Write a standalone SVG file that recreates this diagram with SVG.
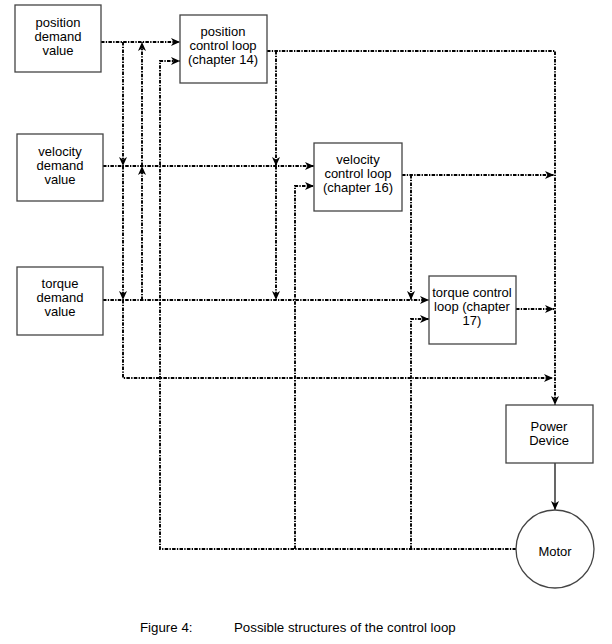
<svg xmlns="http://www.w3.org/2000/svg" width="612" height="644" viewBox="0 0 612 644">
<style>
.box{fill:#fff;stroke:#444;stroke-width:1.3}
.t{font-family:"Liberation Sans",Arial,sans-serif;font-size:13px;fill:#000;text-anchor:middle}
.cap{font-family:"Liberation Sans",Arial,sans-serif;font-size:13.3px;fill:#000}
.d{fill:none;stroke:#000;stroke-width:1.9;stroke-dasharray:3.5 1.3 1.3 1.3}
.s{fill:none;stroke:#000;stroke-width:1.2}
</style>
<defs>
<marker id="a" markerUnits="userSpaceOnUse" markerWidth="10" markerHeight="10" viewBox="0 0 10 10" refX="9" refY="5" orient="auto">
<path d="M0,1 L9,5 L0,9 L2.5,5 z" fill="#000"/>
</marker>
</defs>
<rect width="612" height="644" fill="#fff"/>
<g id="connectors">
<path class="d" d="M101,42 H180" marker-end="url(#a)"/>
<path class="d" d="M123,42 V166" marker-end="url(#a)"/>
<path class="d" d="M123,166 V300" marker-end="url(#a)"/>
<path class="d" d="M123,300 V378 H553" marker-end="url(#a)"/>
<path class="d" d="M142,300 V166" marker-end="url(#a)"/>
<path class="d" d="M142,166 V42" marker-end="url(#a)"/>
<path class="d" d="M103,166 H314" marker-end="url(#a)"/>
<path class="d" d="M103,300 H429" marker-end="url(#a)"/>
<path class="d" d="M516,549 H160 V61 H180" marker-end="url(#a)"/>
<path class="d" d="M295,549 V186 H314" marker-end="url(#a)"/>
<path class="d" d="M411,549 V319 H429" marker-end="url(#a)"/>
<path class="d" d="M267,51 H555 V405" marker-end="url(#a)"/>
<path class="d" d="M276,51 V166" marker-end="url(#a)"/>
<path class="d" d="M276,166 V300" marker-end="url(#a)"/>
<path class="d" d="M402,175 H554" marker-end="url(#a)"/>
<path class="d" d="M411,175 V300" marker-end="url(#a)"/>
<path class="d" d="M516,309 H554" marker-end="url(#a)"/>
<path class="s" d="M555,463 V510" marker-end="url(#a)"/>
</g>
<g id="position-demand">
<rect class="box" x="15" y="5" width="86" height="67"/>
<text class="t" x="58" y="27">position</text>
<text class="t" x="58" y="41">demand</text>
<text class="t" x="58" y="55">value</text>
</g>
<g id="velocity-demand">
<rect class="box" x="17" y="134" width="86" height="67"/>
<text class="t" x="60" y="156">velocity</text>
<text class="t" x="60" y="170">demand</text>
<text class="t" x="60" y="184">value</text>
</g>
<g id="torque-demand">
<rect class="box" x="17" y="267" width="86" height="68"/>
<text class="t" x="60" y="288">torque</text>
<text class="t" x="60" y="302">demand</text>
<text class="t" x="60" y="316">value</text>
</g>
<g id="position-loop">
<rect class="box" x="180" y="15" width="87" height="68"/>
<text class="t" x="223" y="36">position</text>
<text class="t" x="223" y="50">control loop</text>
<text class="t" x="223" y="64">(chapter 14)</text>
</g>
<g id="velocity-loop">
<rect class="box" x="314" y="143" width="88" height="68"/>
<text class="t" x="358" y="164">velocity</text>
<text class="t" x="358" y="178">control loop</text>
<text class="t" x="358" y="192">(chapter 16)</text>
</g>
<g id="torque-loop">
<rect class="box" x="429" y="276" width="87" height="68"/>
<text class="t" x="472" y="297">torque control</text>
<text class="t" x="472" y="311">loop (chapter</text>
<text class="t" x="472" y="325">17)</text>
</g>
<g id="power-device">
<rect class="box" x="506" y="405" width="87" height="58"/>
<text class="t" x="549" y="431">Power</text>
<text class="t" x="549" y="445">Device</text>
</g>
<g id="motor">
<circle class="box" cx="555" cy="549" r="39"/>
<text class="t" x="555" y="556">Motor</text>
</g>
<g id="caption">
<text class="cap" x="140" y="632">Figure 4:</text>
<text class="cap" x="234" y="632">Possible structures of the control loop</text>
</g>
</svg>
